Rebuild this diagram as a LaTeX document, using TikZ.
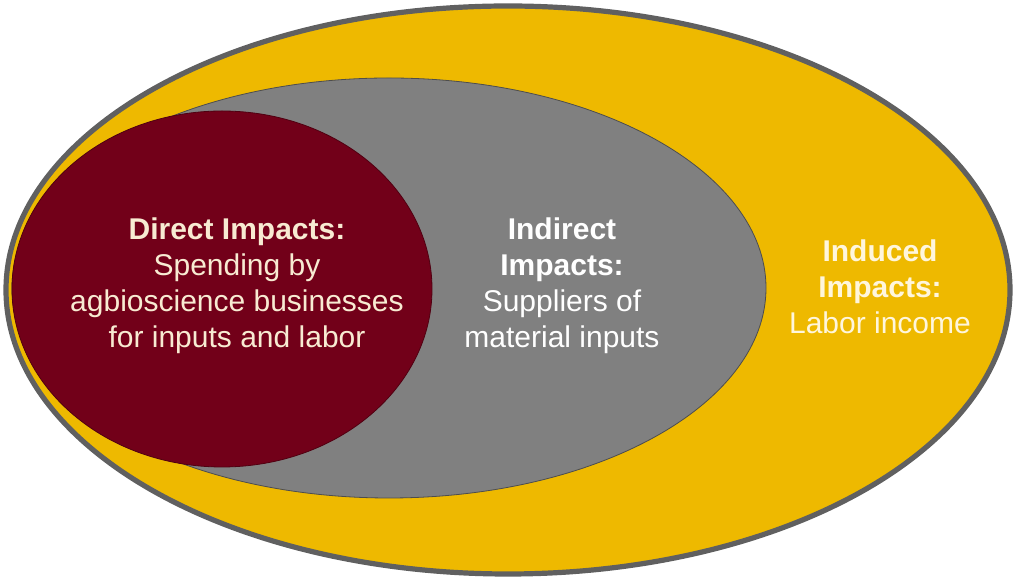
\documentclass[tikz,border=0pt]{standalone}
\usepackage{fontspec}
\setmainfont{Liberation Sans}
\definecolor{gold}{HTML}{EEB900}
\definecolor{rim}{HTML}{606060}
\definecolor{midgray}{HTML}{808080}
\definecolor{maroon}{HTML}{720019}
\definecolor{cream}{HTML}{F8EBD2}
\definecolor{paleyel}{HTML}{FFF6DC}
\tikzset{
  lbl/.style={align=center, font=\fontsize{15}{18}\selectfont},
}
\begin{document}
\begin{tikzpicture}[x=0.5pt,y=-0.5pt]
\useasboundingbox (0,0) rectangle (1013,581);
\fill[gold, draw=rim, line width=2.6pt] (508,290) ellipse [x radius=502, y radius=284];
\fill[midgray, draw=rim!80!black, line width=0.4pt] (389,288) ellipse [x radius=377, y radius=210];
\fill[maroon, draw=maroon!70!black, line width=0.4pt] (222,289) ellipse [x radius=210, y radius=178];
\node[lbl, text=cream] (direct) at (237,286) {\textbf{Direct Impacts:}\\Spending by\\agbioscience businesses\\for inputs and labor};
\node[lbl, text=white] (indirect) at (562,286) {\textbf{Indirect}\\\textbf{Impacts:}\\Suppliers of\\material inputs};
\node[lbl, text=paleyel] (induced) at (880,287) {\textbf{Induced}\\\textbf{Impacts:}\\Labor income};
\end{tikzpicture}
\end{document}
